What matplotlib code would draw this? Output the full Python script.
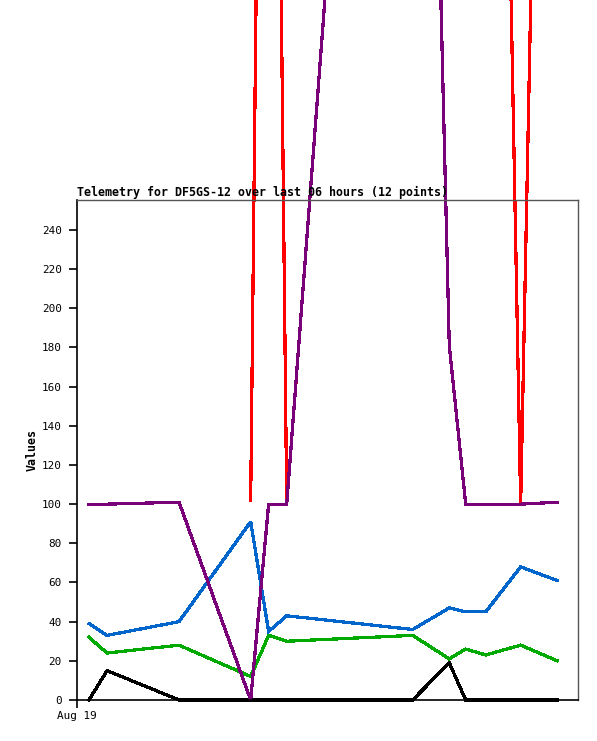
import numpy as np
import matplotlib
matplotlib.use("Agg")
import matplotlib.pyplot as plt

# minutes since start of the 6 hour window
minutes = [8.6, 21.6, 73.3, 124.8, 137.7, 150.7, 241.2, 267.5, 279.3, 293.7, 318.8, 345.1]

ch_black = [0, 15, 0, 0, 0, 0, 0, 19, 0, 0, 0, 0]
ch_green = [32, 24, 28, 12, 33, 30, 33, 21, 26, 23, 28, 20]
ch_blue = [39, 33, 40, 91, 35, 43, 36, 47, 45, 45, 68, 61]
ch_red = [np.nan, np.nan, np.nan, 102, 955, 100, 950, 1000, 1020, 1040, 100, 1035]
ch_purple = [100, 100, 101, 0, 100, 100, 950, 181, 100, 100, 100, 101]

y_ticks = list(range(0, 241, 20))
x_tick_label = "Aug 19"
title = "Telemetry for DF5GS-12 over last 06 hours (12 points)"

W, H = 597, 741
fig = plt.figure(figsize=(W / 100, H / 100), dpi=100)
ax = fig.add_axes([77 / W, 1 - 700 / H, (578 - 77) / W, 500 / H])

series = [
    (ch_black, "#000000"),
    (ch_green, "#00aa00"),
    (ch_blue, "#0066cc"),
    (ch_red, "#ff0000"),
    (ch_purple, "#7a007a"),
]
for vals, col in series:
    ax.plot(minutes, vals, color=col, linewidth=1.6, clip_on=False,
            antialiased=False, solid_joinstyle="miter")

ax.set_xlim(0, 360)
ax.set_ylim(0, 255.3)

ax.set_yticks(y_ticks)
ax.set_yticklabels([str(v) for v in y_ticks], family="DejaVu Sans Mono", fontsize=7.9)
ax.set_xticks([0])
ax.set_xticklabels([x_tick_label], family="DejaVu Sans Mono", fontsize=7.9)
ax.tick_params(axis="y", direction="out", length=6, width=1.2, pad=5, colors="black")
ax.tick_params(axis="x", direction="out", length=6, width=1.2, pad=2, colors="black")

for side in ("top", "right"):
    ax.spines[side].set_color("#555555")
    ax.spines[side].set_linewidth(1.0)
for side in ("left", "bottom"):
    ax.spines[side].set_color("black")
    ax.spines[side].set_linewidth(1.2)

ax.set_ylabel("Values", family="DejaVu Sans Mono", fontweight="bold", fontsize=8.4, labelpad=2)
ax.text(0, 1.003, title, transform=ax.transAxes, ha="left", va="bottom",
        family="DejaVu Sans Mono", fontweight="bold", fontsize=8.4)

fig.savefig("out.png", dpi=100)
